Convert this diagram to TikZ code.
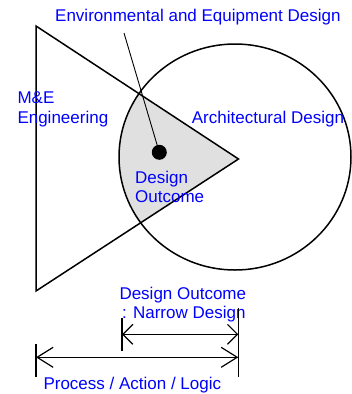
\documentclass[tikz,border=0pt]{standalone}
\usepackage{fontspec}
\setmainfont{Liberation Sans}
\usetikzlibrary{arrows.meta}
\definecolor{lbl}{RGB}{0,0,255}
\definecolor{shadegray}{RGB}{224,224,224}
\begin{document}
\begin{tikzpicture}[x=1pt,y=-1pt,
  lab/.style={text=lbl,font=\fontsize{17}{20}\selectfont,inner sep=0pt,anchor=base west},
  outline/.style={draw=black,line width=1.5pt},
  dimline/.style={line width=1.2pt},
  ext/.style={line width=1.2pt}]
\useasboundingbox (0,0) rectangle (352,394);
% shapes
\coordinate (T1) at (36,26);
\coordinate (T2) at (36,291);
\coordinate (T3) at (238.5,159);
\begin{scope}
  \clip (T1) -- (T3) -- (T2) -- cycle;
  \fill[shadegray] (235,157) ellipse [x radius=116, y radius=113];
\end{scope}
\draw[outline] (235,157) ellipse [x radius=116, y radius=113];
\draw[outline,line join=miter] (T1) -- (T3) -- (T2) -- cycle;
% dot and leader
\node[circle,fill=black,minimum size=15pt,inner sep=0pt] (dot) at (159.3,152.3) {};
\coordinate (lead) at (124,33);
\draw[line width=0.9pt] (lead) -- (dot.center);
% labels
\node[lab] (env) at (55,21.7) {Environmental and Equipment Design};
\node[lab] (me1) at (17.3,103.3) {M\&E};
\node[lab] (me2) at (17.3,123.3) {Engineering};
\node[lab] (arch) at (191.7,123.3) {Architectural Design};
\node[lab] (do1) at (135,183.3) {Design};
\node[lab] (do2) at (135,202.7) {Outcome};
\node[lab] (nd1) at (119.3,299) {Design Outcome};
\node[lab,anchor=base east] (nd2) at (245.7,318.3) {: Narrow Design};
\node[lab] (pal) at (43.3,389) {Process / Action / Logic};
% dimension lines
\coordinate (a1) at (122,334.3);
\coordinate (a2) at (238.3,334.3);
\coordinate (b1) at (36,357.3);
\coordinate (b2) at (238.3,357.3);
\draw[ext] (122,318) -- (122,350.7);
\draw[ext] (238.3,308) -- (238.3,376.7);
\draw[ext] (36,344) -- (36,376.7);
\draw[dimline,{Straight Barb[length=10pt,width=20pt]}-{Straight Barb[length=10pt,width=20pt]}] (a1) -- (a2);
\draw[dimline,{Straight Barb[length=16pt,width=20pt]}-{Straight Barb[length=16pt,width=20pt]}] (b1) -- (b2);
\end{tikzpicture}
\end{document}
